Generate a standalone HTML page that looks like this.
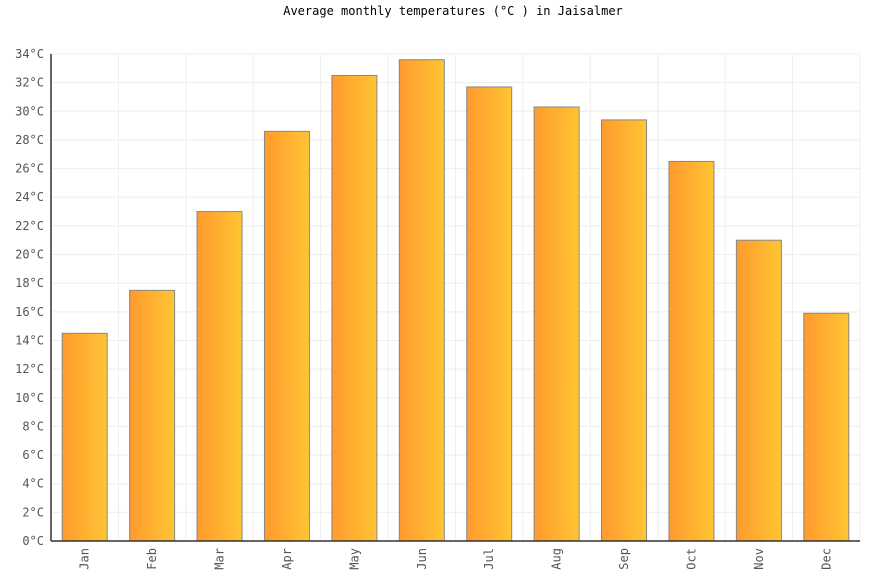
<!DOCTYPE html>
<html><head><meta charset="utf-8"><style>
body{margin:0;background:#fff;}
svg text{font-family:"DejaVu Sans Mono","Liberation Mono",monospace;}
</style></head><body>
<svg id="chart" width="871" height="576" xmlns="http://www.w3.org/2000/svg">
<defs><linearGradient id="g" x1="0" x2="1" y1="0" y2="0"><stop offset="0" stop-color="#ff9a2e"/><stop offset="1" stop-color="#ffc533"/></linearGradient></defs>
<text x="453" y="15" text-anchor="middle" font-size="12" fill="#000">Average monthly temperatures (°C ) in Jaisalmer</text>
<g id="grid"></g><g id="bars"></g><g id="axes"></g>
</svg>
<script>
const months=["Jan","Feb","Mar","Apr","May","Jun","Jul","Aug","Sep","Oct","Nov","Dec"];
const temps=[14.5,17.5,23.0,28.6,32.5,33.6,31.7,30.3,29.4,26.5,21.0,15.9];
const yTicks=[0,2,4,6,8,10,12,14,16,18,20,22,24,26,28,30,32,34];
const NS="http://www.w3.org/2000/svg";
const x0=51,x1=860,yTop=54,yBot=541,yMax=34;
const slot=(x1-x0)/months.length;
const y=v=>yBot-(v/yMax)*(yBot-yTop);
const xs=i=>x0+slot*i;
function mk(t,a,p){const e=document.createElementNS(NS,t);for(const k in a)e.setAttribute(k,a[k]);p.appendChild(e);return e;}
const grid=document.getElementById('grid'),bars=document.getElementById('bars'),axes=document.getElementById('axes');
yTicks.forEach(v=>{
 const l=mk('line',{x1:x0,x2:x1,y1:y(v),y2:y(v),stroke:'#eeeeee'},grid);
 
 
 const t=mk('text',{x:44,y:y(v)+4,'text-anchor':'end','font-size':'12',fill:'#555'},axes);
 t.textContent=v+'°C';
 
 
});
for(let i=1;i<=months.length;i++){
 const l=mk('line',{x1:xs(i),x2:xs(i),y1:yTop,y2:yBot,stroke:'#eeeeee'},grid);
 
 
}
months.forEach((m,i)=>{
 const cx=xs(i)+slot/2,w=45;
 const r=mk('rect',{x:cx-w/2,y:y(temps[i]),width:w,height:yBot-y(temps[i]),fill:'url(#g)',stroke:'#888','stroke-width':1},bars);
 
 
 const t=mk('text',{x:0,y:0,'text-anchor':'end','font-size':'12',fill:'#555',transform:`translate(${cx+4},548) rotate(-90)`},axes);
 t.textContent=m;
 
 
});
const ax=mk('line',{x1:x0,x2:x0,y1:yTop,y2:yBot,stroke:'#333','stroke-width':1.5},axes);


const bx=mk('line',{x1:x0,x2:x1,y1:yBot,y2:yBot,stroke:'#333','stroke-width':1.5},axes);


</script>
</body></html>
